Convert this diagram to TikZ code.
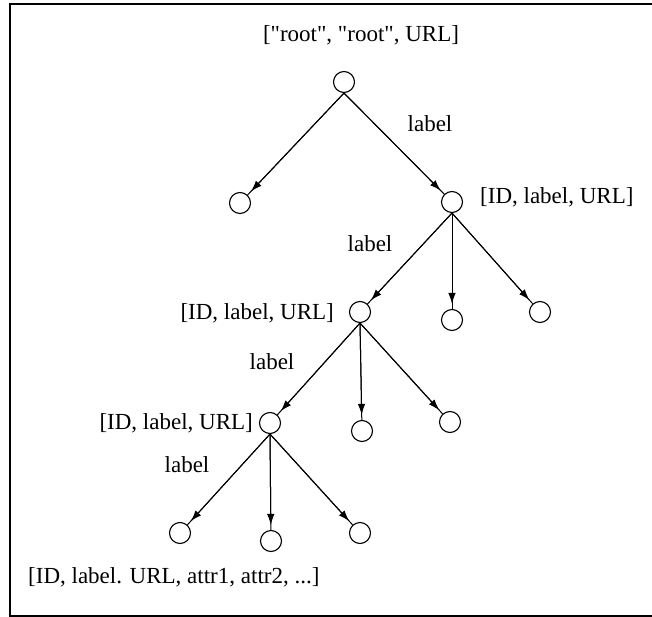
\documentclass[tikz,border=0pt]{standalone}
\usepackage{fontspec}
\setmainfont{Liberation Serif}
\usetikzlibrary{arrows.meta}
\begin{document}
\begin{tikzpicture}[x=1pt,y=-1pt,
  treenode/.style={circle,draw,line width=1.1pt,minimum size=21pt,inner sep=0pt},
  txt/.style={font=\fontsize{23}{26}\selectfont,inner sep=0pt},
  link/.style={line width=1pt,
    postaction={draw,line width=1pt,shorten >=5pt,-{Latex[length=11pt,width=7.5pt]}}}]
\useasboundingbox (0,0) rectangle (652,617);
% frame, its right side runs past the page edge
\draw[line width=2pt] (665,4) -- (10,4) -- (10,616) -- (665,616);

% tree nodes
\node[treenode] (r)   at (344,82) {};
\node[treenode] (a)   at (240,203) {};
\node[treenode] (b)   at (452,202) {};
\node[treenode] (b1)  at (360,312) {};
\node[treenode] (b2)  at (452,320) {};
\node[treenode] (b3)  at (540,312) {};
\node[treenode] (c1)  at (270,423) {};
\node[treenode] (c2)  at (362,431) {};
\node[treenode] (c3)  at (450,422) {};
\node[treenode] (d1)  at (180,533) {};
\node[treenode] (d2)  at (271,541) {};
\node[treenode] (d3)  at (360,533) {};

% connectors
\draw[link] (r.south) -- (a);
\draw[link] (r.south) -- (b);
\draw[link] (b.south) -- (b1);
\draw[link] (b.south) -- (b2);
\draw[link] (b.south) -- (b3);
\draw[link] (b1.south) -- (c1);
\draw[link] (b1.south) -- (c2);
\draw[link] (b1.south) -- (c3);
\draw[link] (c1.south) -- (d1);
\draw[link] (c1.south) -- (d2);
\draw[link] (c1.south) -- (d3);

% texts
\node[txt] (tr) at (361,35) {[\textquotedbl root\textquotedbl, \textquotedbl root\textquotedbl, URL]};
\node[txt,anchor=west] (tb) at (480,197) {[ID, label, URL]};
\node[txt,anchor=east] (tb1) at (334,313) {[ID, label, URL]};
\node[txt,anchor=east] (tc1) at (253,423) {[ID, label, URL]};
\node[txt,anchor=west] (td) at (28,577) {[ID, label. URL, attr1, attr2, ...]};
\node[txt] (l1) at (430,124) {label};
\node[txt] (l2) at (370,244) {label};
\node[txt] (l3) at (272,362) {label};
\node[txt] (l4) at (187,465) {label};
\end{tikzpicture}
\end{document}
